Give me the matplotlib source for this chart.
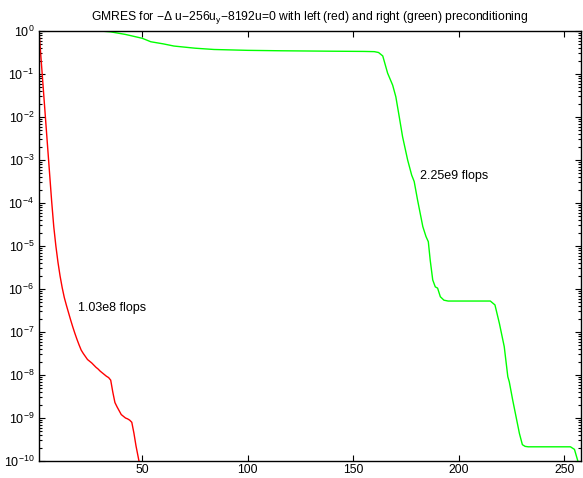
import matplotlib

matplotlib.use("Agg")
import matplotlib.pyplot as plt
import numpy as np
from matplotlib.ticker import LogLocator, NullFormatter, FixedLocator

plt.rcParams["font.family"] = ["Liberation Sans", "DejaVu Sans"]
plt.rcParams["mathtext.fontset"] = "custom"
plt.rcParams["mathtext.rm"] = "Liberation Sans"
plt.rcParams["mathtext.it"] = "Liberation Sans"
plt.rcParams["mathtext.bf"] = "Liberation Sans:bold"

# residual history, log10 of relative residual per GMRES iteration
left_iter = [1, 2, 3, 4, 5, 6, 7, 8, 9, 10, 11, 12, 13, 14, 15, 16, 17, 18,
             19, 20, 21, 22, 23, 24, 25, 26, 27, 28, 29, 30, 31, 32, 33, 34,
             35, 36, 37, 38, 39, 40, 41, 42, 43, 44, 45, 46, 47, 48, 49]
left_log_res = [0, -0.66, -1.32, -1.98, -2.64, -3.30, -3.96, -4.55, -5.00,
                -5.38, -5.70, -5.97, -6.20, -6.38, -6.55, -6.72, -6.88, -7.03,
                -7.17, -7.30, -7.42, -7.50, -7.57, -7.64, -7.68, -7.72, -7.77,
                -7.82, -7.86, -7.91, -7.95, -7.99, -8.03, -8.06, -8.12, -8.40,
                -8.64, -8.74, -8.83, -8.92, -8.96, -9.00, -9.02, -9.05, -9.10,
                -9.35, -9.65, -9.90, -10.15]

right_iter = [1, 30, 35, 42, 50, 54, 60, 65, 75, 84, 100, 116, 140, 155, 160,
              162, 164, 166.3, 168.7, 170.2, 171.8, 173.4, 175.8, 177.7, 178.9,
              180.5, 183, 184.5, 185.6, 186.5, 187.7, 188.9, 190, 191.3, 193,
              195, 215, 217.2, 219.3, 221.6, 223.3, 224, 225.6, 227.2, 228.8,
              230.2, 231.5, 233, 253, 254.9, 256.5, 257]
right_log_res = [0, 0, -0.02, -0.08, -0.17, -0.25, -0.30, -0.35, -0.40, -0.43,
                 -0.45, -0.46, -0.47, -0.475, -0.48, -0.50, -0.58, -0.98, -1.26,
                 -1.53, -1.99, -2.46, -3.00, -3.35, -3.50, -3.93, -4.55, -4.78,
                 -4.90, -5.33, -5.79, -5.95, -5.98, -6.18, -6.26, -6.28, -6.28,
                 -6.37, -6.80, -7.34, -8.04, -8.16, -8.58, -8.97, -9.36, -9.62,
                 -9.66, -9.67, -9.67, -9.73, -10.0, -10.2]

x_ticks = [50, 100, 150, 200, 250]

fig = plt.figure(figsize=(5.83, 4.78), dpi=100)
ax = fig.add_axes([39 / 583, 17 / 478, 542 / 583, 430 / 478])

ax.semilogy(left_iter, 10.0 ** np.array(left_log_res), color="#ff0000", lw=1.0)
ax.semilogy(right_iter, 10.0 ** np.array(right_log_res), color="#00ff00", lw=1.0)

ax.set_xlim(1, 258)
ax.set_ylim(1e-10, 1)
ax.xaxis.set_major_locator(FixedLocator(x_ticks))
ax.yaxis.set_major_locator(LogLocator(base=10, numticks=20))
ax.yaxis.set_minor_locator(LogLocator(base=10, subs=np.arange(2, 10), numticks=20))
ax.yaxis.set_minor_formatter(NullFormatter())

ax.tick_params(which="both", direction="in", top=True, right=True,
               labelsize=9, width=0.8)
ax.tick_params(which="major", length=4)
ax.tick_params(which="minor", length=2)
ax.tick_params(axis="x", pad=2, labelsize=8.8)
for spine in ax.spines.values():
    spine.set_linewidth(1.0)

ax.set_title("GMRES for −Δ u−256u$_\\mathregular{y}$−8192u=0 with left (red) "
             "and right (green) preconditioning", fontsize=8.7, pad=8)

ax.text(19.3, 10 ** -6.44, "1.03e8 flops", fontsize=9, va="center", ha="left")
ax.text(181.8, 10 ** -3.37, "2.25e9 flops", fontsize=9, va="center", ha="left")

fig.savefig("out.png", dpi=100)
